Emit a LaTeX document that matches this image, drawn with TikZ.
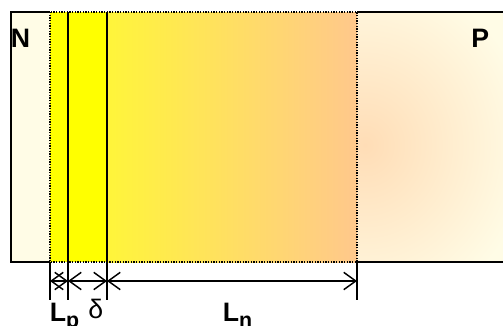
\documentclass[tikz,border=0pt]{standalone}
\usepackage{fontspec}
\setmainfont{Liberation Sans}
\usetikzlibrary{arrows.meta}
\definecolor{Cream}{HTML}{FFFCE6}
\definecolor{Lemon}{HTML}{FFFF00}
\definecolor{Sun}{HTML}{FFF53A}
\definecolor{Peach}{HTML}{FFC88C}
\definecolor{Glow}{HTML}{FFDDB6}
\newcommand{\lowsub}[1]{\raisebox{-4.5pt}{\fontsize{16}{17}\selectfont #1}}

\begin{document}
\begin{tikzpicture}[x=0.75pt, y=-0.75pt,
  edge/.style={draw=black, line width=1.5pt},
  zone/.style={draw=black, densely dotted, line width=1pt},
  wall/.style={draw=black, line width=1.4pt},
  dim/.style={<->, >={Straight Barb[length=9pt, width=13pt]}, line width=1.1pt},
  lbl/.style={font=\bfseries\fontsize{20}{22}\selectfont, anchor=base west, inner sep=0pt},
]
\useasboundingbox (0,0) rectangle (503,325);

%% -- Regions ---------------------------------------------------
\fill[Cream] (11,12) rectangle (510,262);
\begin{scope}
  \clip (357,12) rectangle (510,262);
  \shade[inner color=Glow, outer color=Cream] (200,-30) rectangle (530,320);
\end{scope}
\fill[Lemon] (50,12) rectangle (107,262);
\shade[left color=Sun, right color=Peach] (107,12) rectangle (357,262);

%% -- Borders ---------------------------------------------------
\draw[edge] (50,12) -- (11,12) -- (11,262) -- (50,262);
\draw[edge] (357,12) -- (510,12);
\draw[edge] (357,262) -- (510,262);
\draw[zone] (50,12) rectangle (357,262);

%% -- Edges and dimensions -------------------------------------
\coordinate (d0) at (50,281);
\coordinate (d1) at (68,281);
\coordinate (d2) at (107,281);
\coordinate (d3) at (357,281);

\draw[wall] (68,12) -- (68,300);
\draw[wall] (107,12) -- (107,300);
\draw[wall] (50,262) -- (50,300);
\draw[wall] (357,262) -- (357,300);

\draw[dim] (d0) -- (d1);
\draw[dim] (d1) -- (d2);
\draw[dim] (d2) -- (d3);

%% -- Labels ----------------------------------------------------
\node[lbl] (N) at (10.5,47) {N};
\node[lbl] (P) at (471,47) {P};
\node[lbl] (Lp) at (49.5,321) {L\lowsub{p}};
\node[lbl, font=\fontsize{20}{22}\selectfont] (delta) at (88,318) {δ};
\node[lbl] (Ln) at (222.5,321) {L\lowsub{n}};

\end{tikzpicture}
\end{document}
